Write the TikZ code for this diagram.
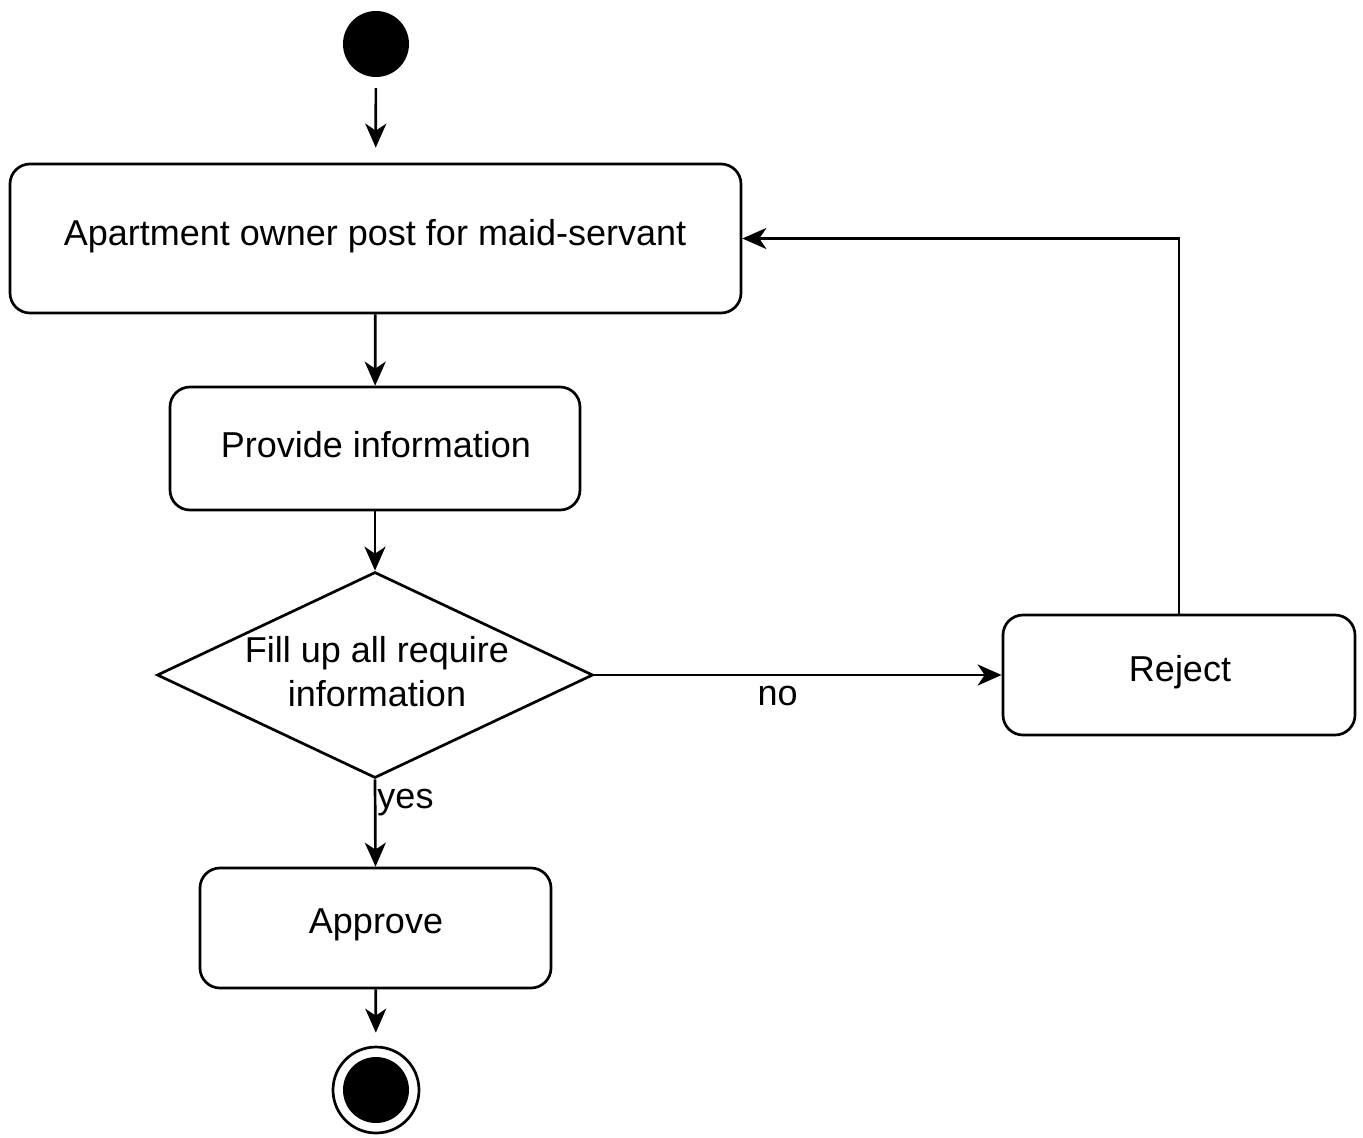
\documentclass[tikz,border=0pt]{standalone}
\usepackage{fontspec}
\setmainfont{Liberation Sans}
\usetikzlibrary{arrows.meta,shapes.geometric}
\begin{document}
\begin{tikzpicture}[x=1pt,y=-1pt,
  every node/.style={font=\fontsize{36}{44}\selectfont},
  line/.style={line width=2.7pt,draw=black},
  flow/.style={line,-{Stealth[length=24pt,width=21pt,inset=7pt]}},
  act/.style={draw,line width=2.7pt,rounded corners=20pt,inner sep=0pt},
]
\useasboundingbox (0,0) rectangle (1363,1138);

% initial and final states
\node[circle,fill=black,minimum size=66pt,inner sep=0pt] (start) at (376,44) {};
\node[circle,draw,line width=2.7pt,minimum size=86pt,inner sep=0pt] (stop) at (376,1090) {};
\node[circle,fill=black,minimum size=66pt,inner sep=0pt] (stopdot) at (376,1090) {};

% activities
\node[act,minimum width=731pt,minimum height=149pt] (post) at (375.5,238.5) {};
\node at (375,236) {Apartment owner post for maid-servant};
\node[act,minimum width=410pt,minimum height=123pt] (info) at (375,448.5) {};
\node at (376,445) {Provide information};
\node[act,minimum width=351pt,minimum height=120pt] (approve) at (375.5,928) {};
\node at (376,925) {Approve};
\node[act,minimum width=352pt,minimum height=120pt] (reject) at (1179,675) {};
\node at (1180,672) {Reject};

% decision
\node[diamond,draw,line width=2.7pt,minimum width=436pt,minimum height=206pt,inner sep=0pt] (check) at (375,675) {};
\node[align=center] at (377,672) {Fill up all require\\information};

% connectors
\draw[flow,shorten <=11pt,shorten >=15pt] (start) -- (post);
\draw[flow] (post) -- (info);
\draw[flow] (info) -- (check);
\draw[flow] (check.south) -- node[right,pos=0.27,inner sep=1pt] {yes} (approve.north);
\draw[flow] (check.east) -- node[below,pos=0.45,inner sep=10pt] {no} (reject.west);
\draw[flow] (reject.north) |- (post.east);
\draw[flow,shorten >=13pt] (approve) -- (stop);
\end{tikzpicture}
\end{document}
